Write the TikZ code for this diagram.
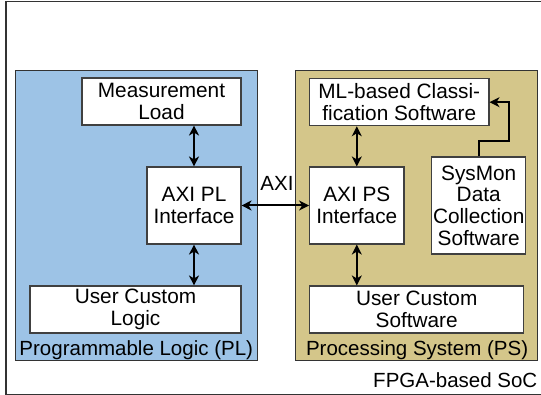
\documentclass[tikz,border=0pt]{standalone}
\usepackage{fontspec}
\setmainfont{Liberation Sans}
\usetikzlibrary{arrows.meta}
\definecolor{plblue}{RGB}{157,195,230}
\definecolor{pstan}{RGB}{212,198,138}
\definecolor{edge}{RGB}{64,64,64}
\tikzset{
  txt/.style={font=\fontsize{20.8}{21.6}\selectfont},
  blockbox/.style={draw=edge, line width=1.1pt, fill=white, inner sep=0pt, align=center, txt},
  regionbox/.style={draw=edge!80!black, line width=1pt},
  tipshape/.style={Stealth[length=10pt,width=10pt,inset=3pt]},
  biarrow/.style={line width=2pt, {Stealth[length=10pt,width=10pt,inset=3pt]}-{Stealth[length=10pt,width=10pt,inset=3pt]}},
  onearrow/.style={line width=2pt, -{Stealth[length=10pt,width=10pt,inset=3pt]}},
  lbl/.style={inner sep=0pt, font=\fontsize{20.5}{21.6}\selectfont}
}
\begin{document}
\begin{tikzpicture}[x=1pt,y=-1pt]
\useasboundingbox (0,0) rectangle (541,395);
\fill[white] (0,0) rectangle (541,395);
% outer frame
\draw[draw=black!80, line width=1.5pt] (6,1.6) rectangle (543,394.9);
% regions
\draw[regionbox, fill=plblue] (15.7,70.7) rectangle (257,360.7);
\draw[regionbox, fill=pstan] (295.7,70.7) rectangle (537.7,361);
% blocks
\node[blockbox, minimum width=159pt, minimum height=47pt] (mload) at (161.5,101.5) {Measurement\\Load};
\node[blockbox, minimum width=94pt, minimum height=77pt] (axipl) at (194,205.5) {AXI PL\\Interface};
\node[blockbox, minimum width=211pt, minimum height=47pt] (ucl) at (135.5,309.5) {User Custom\\Logic};
\node[blockbox, minimum width=179.3pt, minimum height=47pt] (ml) at (399.3,102.2) {ML-based Classi-\\fication Software};
\node[blockbox, minimum width=94pt, minimum height=97pt] (sysmon) at (478.7,205.5) {SysMon\\Data\\Collection\\Software};
\node[blockbox, minimum width=94.3pt, minimum height=77pt] (axips) at (356.8,205.5) {AXI PS\\Interface};
\node[blockbox, minimum width=214pt, minimum height=47pt] (ucs) at (416.7,309.5) {User Custom\\Software};
% labels
\node[lbl, anchor=base west] (pllbl) at (19.3,355.3) {Programmable Logic (PL)};
\node[lbl, anchor=base west] (pslbl) at (305.8,355.3) {Processing System (PS)};
\node[lbl, anchor=base east] (soclbl) at (537.5,387.4) {FPGA-based SoC};
\node[lbl, anchor=base] (axilbl) at (277,190.7) {AXI};
% connectors
\draw[biarrow] (axipl.north) -- (axipl.north |- mload.south);
\draw[biarrow] (axipl.south) -- (axipl.south |- ucl.north);
\draw[biarrow] (axips.north) -- (axips.north |- ml.south);
\draw[biarrow] (axips.south) -- (axips.south |- ucs.north);
\draw[biarrow] (axipl.east) -- (axips.west);
\coordinate (bend) at ([xshift=19pt]ml.east);
\draw[onearrow, line join=miter] (sysmon.north) -- ++(0,-15.3) -| (bend) -- (ml.east);
\end{tikzpicture}
\end{document}
